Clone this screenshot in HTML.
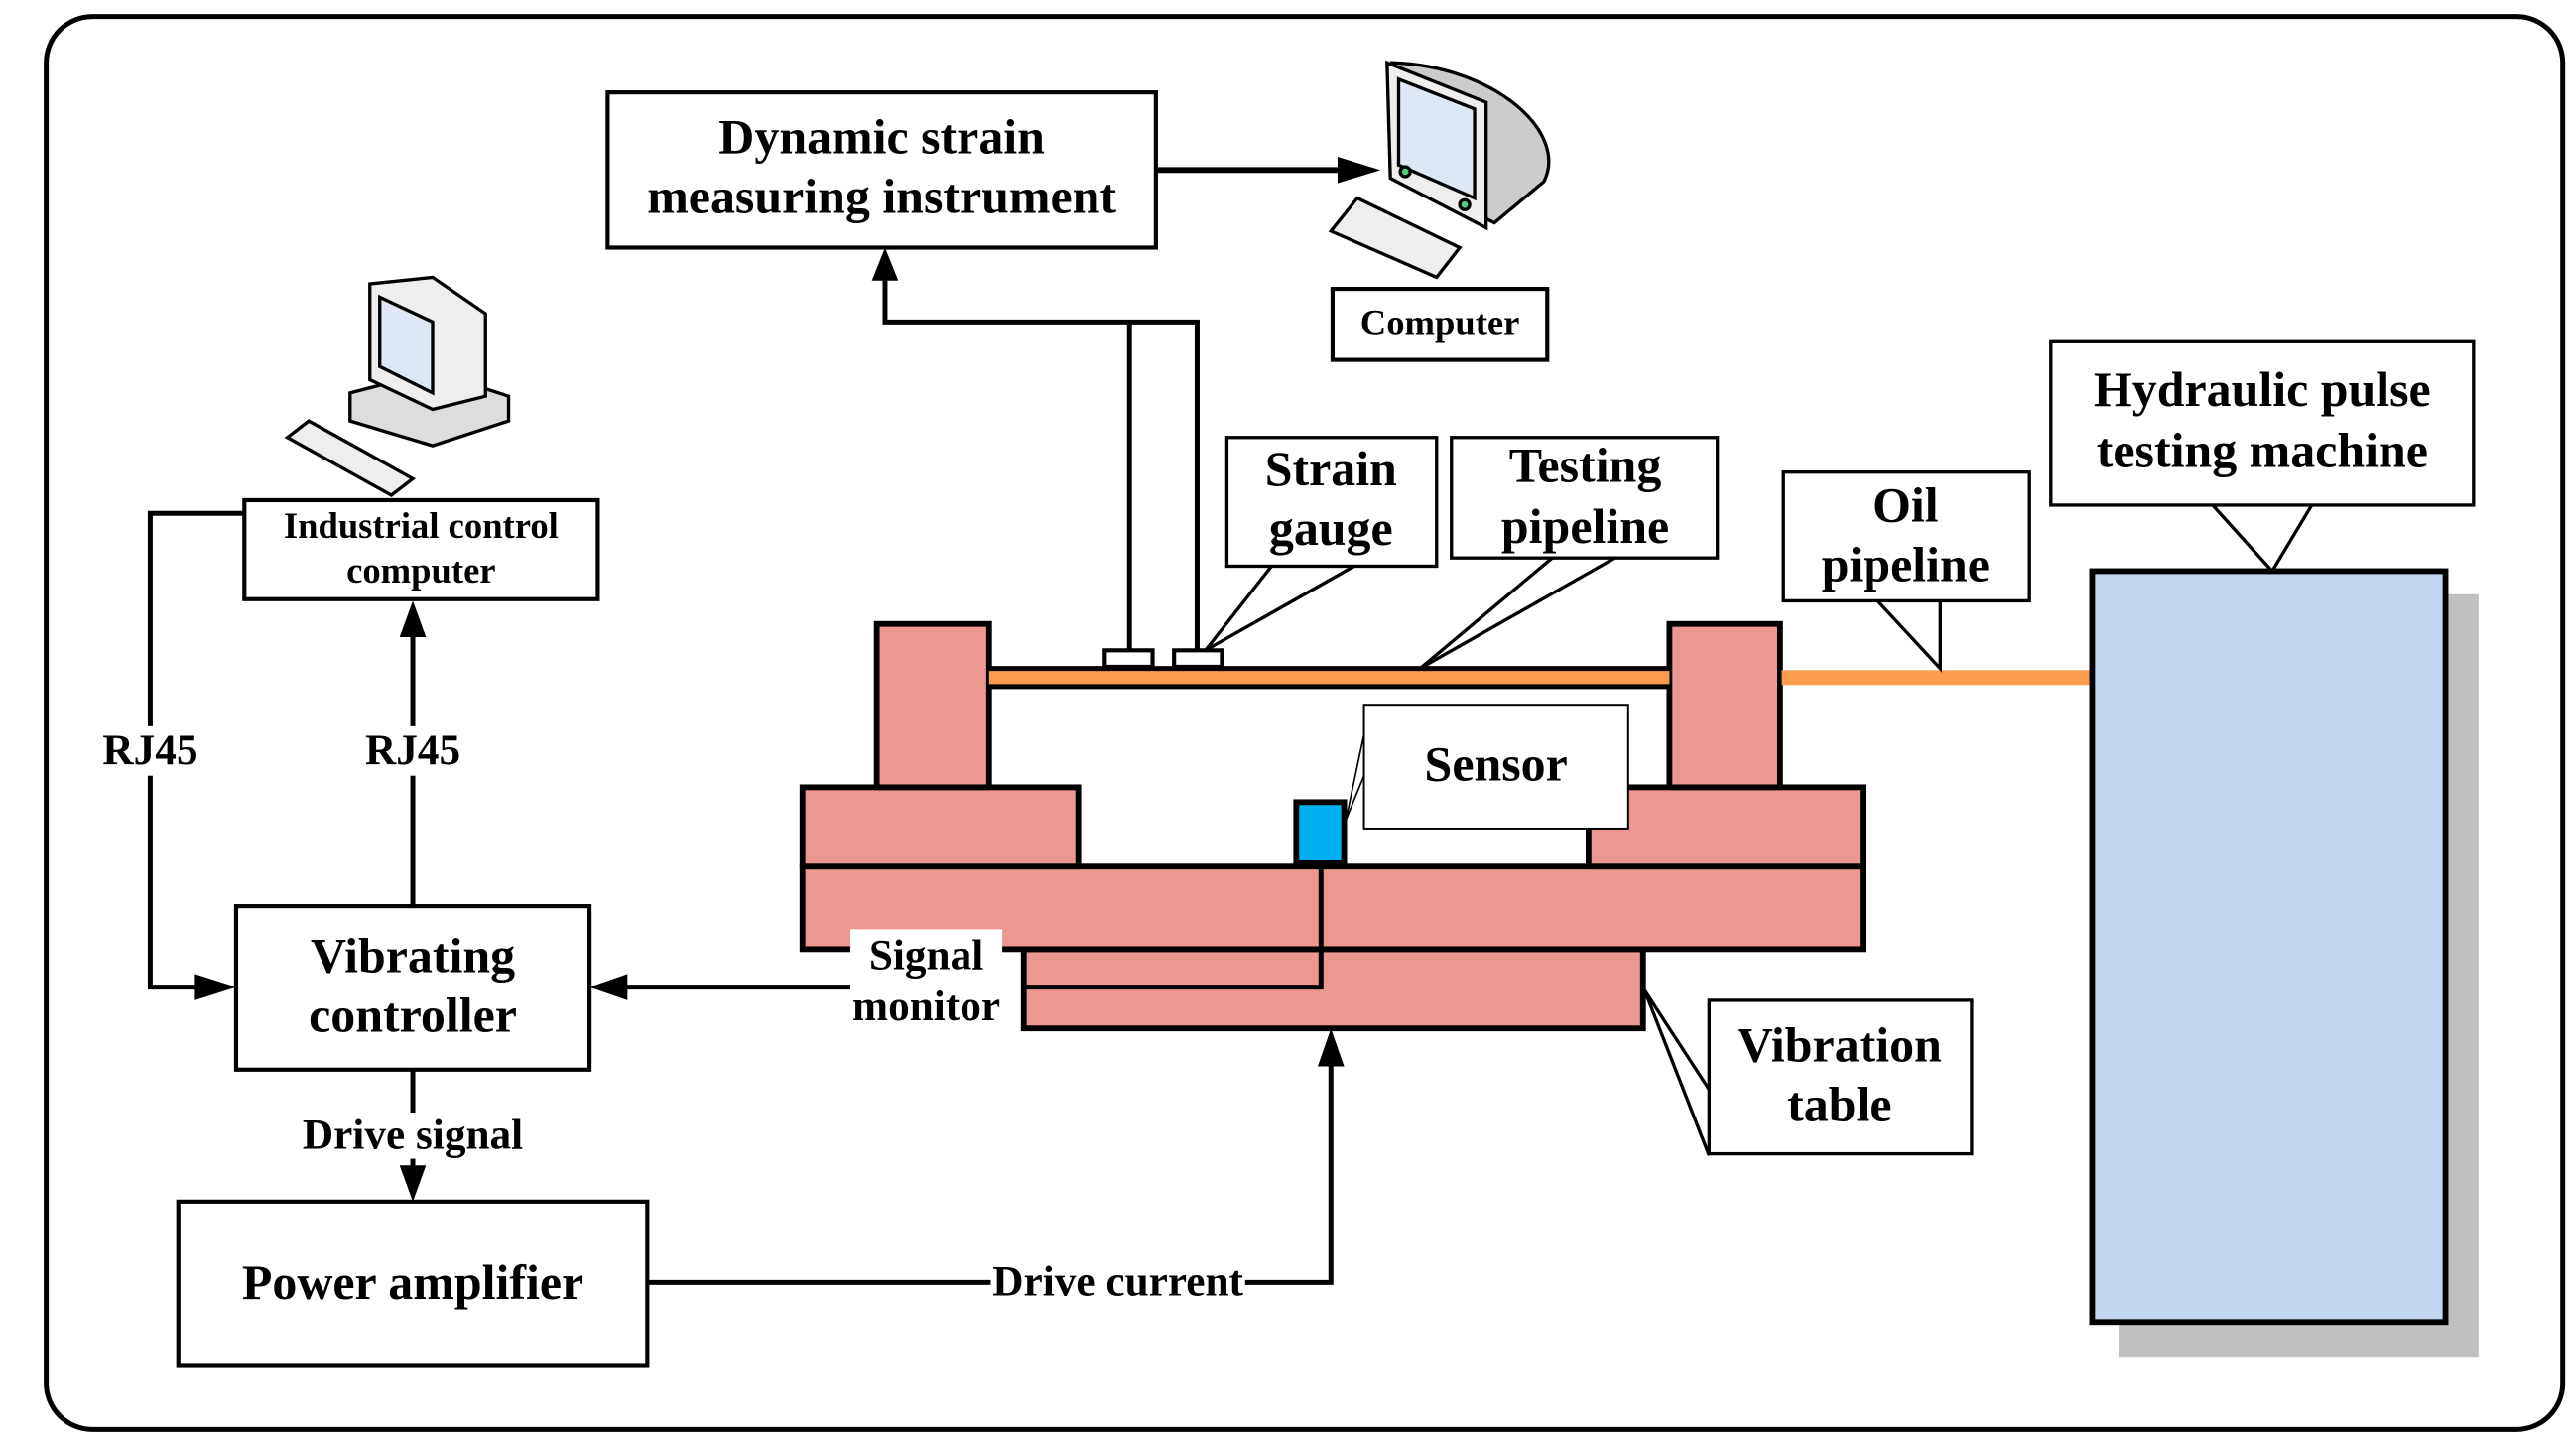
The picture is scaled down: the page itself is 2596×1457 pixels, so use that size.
<!DOCTYPE html>
<html><head><meta charset="utf-8"><style>
html,body{margin:0;padding:0;background:#fff}
svg{display:block}
text{font-family:"Liberation Serif",serif;font-weight:bold;fill:#000}
</style></head><body>
<svg width="2596" height="1457" viewBox="0 0 1560 876" preserveAspectRatio="none" xmlns="http://www.w3.org/2000/svg">
<rect x="28" y="10" width="1524" height="856" rx="28" fill="none" stroke="#000" stroke-width="3"/>

<!-- Dynamic strain -->
<rect x="368" y="56" width="332" height="94" fill="#fff" stroke="#000" stroke-width="2.5"/>
<text x="534" y="93" font-size="30" text-anchor="middle">Dynamic strain</text>
<text x="534" y="129" font-size="30" text-anchor="middle">measuring instrument</text>
<line x1="700" y1="103" x2="822" y2="103" stroke="#000" stroke-width="3.5"/>
<path d="M810,95 L836,103 L810,111 z" fill="#000"/>

<!-- top computer -->
<g stroke="#000" stroke-width="2">
<path d="M843,38 C905,40 950,80 935,110 L905,135 L845,105 z" fill="#ccc"/>
<path d="M840,38 L900,62 L900,138 L842,108 z" fill="#eee"/>
<path d="M847,48 L893,66 L893,120 L847,100 z" fill="#dde8f4"/>
<path d="M806,140 L822,120 L884,150 L870,168 z" fill="#eee"/>
<circle cx="851" cy="104" r="3" fill="#5c8"/><circle cx="887" cy="124" r="3" fill="#5c8"/>
</g>
<rect x="807" y="175" width="130" height="43" fill="#fff" stroke="#000" stroke-width="2.5"/>
<text x="872" y="203" font-size="22" text-anchor="middle">Computer</text>

<!-- lines to strain gauges -->
<path d="M536,160 L536,195 L725,195 L725,394 M684,195 L684,394" fill="none" stroke="#000" stroke-width="3"/>
<path d="M528,170 L536,150 L544,170 z" fill="#000"/>

<!-- Industrial computer icon -->
<g stroke="#000" stroke-width="2">
<path d="M212,238 L262,225 L308,240 L308,255 L262,270 L212,255 z" fill="#ddd"/>
<path d="M224,172 L262,168 L294,190 L294,240 L262,248 L224,230 z" fill="#eee"/>
<path d="M230,180 L262,195 L262,238 L230,222 z" fill="#dde8f4"/>
<path d="M174,265 L187,255 L250,290 L237,300 z" fill="#eee"/>
</g>
<rect x="148" y="303" width="214" height="60" fill="#fff" stroke="#000" stroke-width="2.5"/>
<text x="255" y="326" font-size="22" text-anchor="middle">Industrial control</text>
<text x="255" y="353" font-size="22" text-anchor="middle">computer</text>

<!-- RJ45 lines -->
<line x1="250" y1="549" x2="250" y2="380" stroke="#000" stroke-width="3"/>
<path d="M242,386 L250,364 L258,386 z" fill="#000"/>
<path d="M148,311 L91,311 L91,598 L125,598" fill="none" stroke="#000" stroke-width="3"/>
<path d="M118,590 L143,598 L118,606 z" fill="#000"/>
<rect x="58" y="440" width="66" height="30" fill="#fff"/>
<text x="91" y="463" font-size="26" text-anchor="middle">RJ45</text>
<rect x="216" y="440" width="68" height="30" fill="#fff"/>
<text x="250" y="463" font-size="26" text-anchor="middle">RJ45</text>

<!-- Vibrating controller -->
<rect x="143" y="549" width="214" height="99" fill="#fff" stroke="#000" stroke-width="2.5"/>
<text x="250" y="589" font-size="30" text-anchor="middle">Vibrating</text>
<text x="250" y="625" font-size="30" text-anchor="middle">controller</text>
<line x1="250" y1="648" x2="250" y2="710" stroke="#000" stroke-width="3"/>
<path d="M242,706 L250,728 L258,706 z" fill="#000"/>
<rect x="178" y="674" width="144" height="28" fill="#fff"/>
<text x="250" y="696" font-size="26" text-anchor="middle">Drive signal</text>

<!-- Power amplifier -->
<rect x="108" y="728" width="284" height="99" fill="#fff" stroke="#000" stroke-width="2.5"/>
<text x="250" y="787" font-size="30" text-anchor="middle">Power amplifier</text>
<path d="M392,777 L806,777 L806,640" fill="none" stroke="#000" stroke-width="3"/>
<path d="M798,646 L806,623 L814,646 z" fill="#000"/>
<rect x="600" y="764" width="154" height="26" fill="#fff"/>
<text x="677" y="785" font-size="26" text-anchor="middle">Drive current</text>

<!-- Vibration table structure -->
<g stroke="#000" stroke-width="3.5" fill="#ec9891">
<rect x="620" y="575" width="375" height="48"/>
<rect x="486" y="525" width="642" height="50"/>
<rect x="486" y="477" width="167" height="48"/>
<rect x="962" y="477" width="166" height="48"/>
<rect x="531" y="378" width="68" height="99"/>
<rect x="1011" y="378" width="67" height="99"/>
</g>
<rect x="599" y="406" width="412" height="9" fill="#f99c4c"/>
<line x1="599" y1="405" x2="1011" y2="405" stroke="#000" stroke-width="3"/>
<line x1="599" y1="416" x2="1011" y2="416" stroke="#000" stroke-width="3"/>
<rect x="1079" y="406" width="188" height="9" fill="#f99c4c"/>
<rect x="669" y="394" width="29" height="10" fill="#fff" stroke="#000" stroke-width="2.5"/>
<rect x="711" y="394" width="29" height="10" fill="#fff" stroke="#000" stroke-width="2.5"/>

<!-- sensor -->
<rect x="785" y="486" width="29" height="37" fill="#00b0f0" stroke="#000" stroke-width="3.5"/>
<path d="M800,525 L800,598 L620,598" fill="none" stroke="#000" stroke-width="3"/>
<line x1="515" y1="598" x2="375" y2="598" stroke="#000" stroke-width="3"/>
<path d="M380,590 L357,598 L380,606 z" fill="#000"/>
<rect x="515" y="563" width="92" height="62" fill="#fff"/>
<text x="561" y="587" font-size="26" text-anchor="middle">Signal</text>
<text x="561" y="618" font-size="26" text-anchor="middle">monitor</text>

<path d="M826,445 L815,497 L826,470" fill="#fff" stroke="#000" stroke-width="1"/>
<rect x="826" y="427" width="160" height="75" fill="#fff" stroke="#000" stroke-width="1.2"/>
<text x="906" y="473" font-size="30" text-anchor="middle">Sensor</text>

<!-- callouts -->
<g stroke="#000" stroke-width="2" fill="#fff">
<path d="M770,343 L730,394 L820,343"/>
<rect x="743" y="265" width="127" height="78"/>
<path d="M940,338 L860,405 L978,338"/>
<rect x="879" y="265" width="161" height="73"/>
<path d="M1137,364 L1175,405 L1175,364"/>
<rect x="1080" y="286" width="149" height="78"/>
<path d="M1340,306 L1376,346 L1400,306"/>
<rect x="1242" y="207" width="256" height="99"/>
<path d="M1035,660 L996,600 L1035,700"/>
<rect x="1035" y="606" width="159" height="93"/>
</g>
<text x="806" y="294" font-size="30" text-anchor="middle">Strain</text>
<text x="806" y="330" font-size="30" text-anchor="middle">gauge</text>
<text x="960" y="292" font-size="30" text-anchor="middle">Testing</text>
<text x="960" y="329" font-size="30" text-anchor="middle">pipeline</text>
<text x="1154" y="316" font-size="30" text-anchor="middle">Oil</text>
<text x="1154" y="352" font-size="30" text-anchor="middle">pipeline</text>
<text x="1370" y="246" font-size="30" text-anchor="middle">Hydraulic pulse</text>
<text x="1370" y="283" font-size="30" text-anchor="middle">testing machine</text>
<text x="1114" y="643" font-size="30" text-anchor="middle">Vibration</text>
<text x="1114" y="679" font-size="30" text-anchor="middle">table</text>

<!-- hydraulic machine -->
<rect x="1283" y="360" width="218" height="462" fill="#c0c0c0"/>
<rect x="1267" y="346" width="214" height="455" fill="#c0d7ef" stroke="#000" stroke-width="3.5"/>
</svg>
</body></html>
